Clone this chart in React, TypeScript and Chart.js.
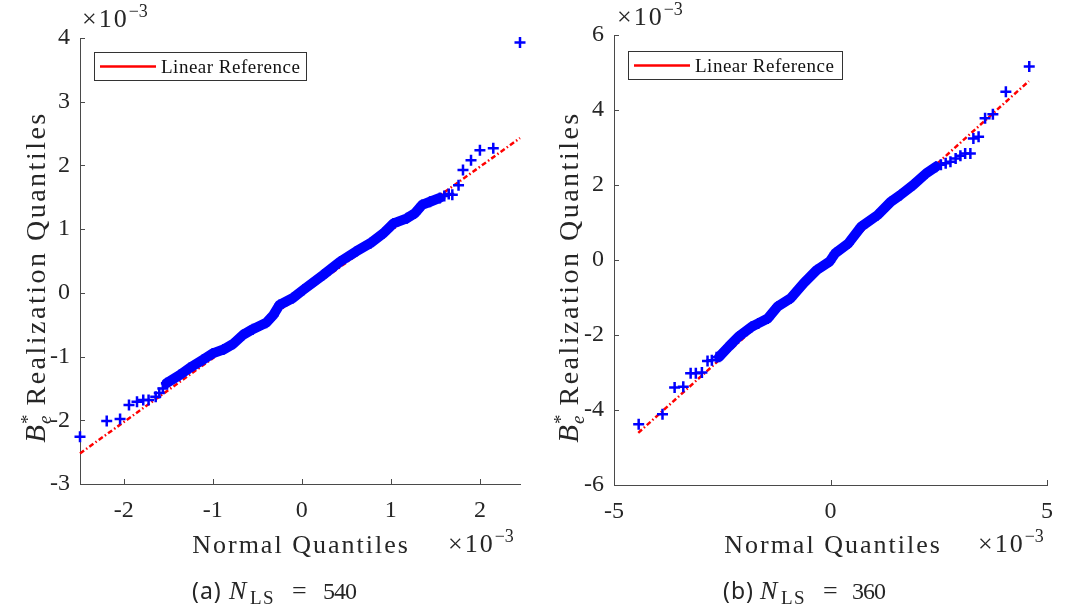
import React, { useEffect, useRef } from "react";
import { Chart, registerables } from "chart.js";

Chart.register(...registerables);

const BLUE = "#0000ff";
const RED = "#ff0000";
const AXIS = "#4a4a4a";
const TEXT = "#262626";
const SERIF = '"Liberation Serif", "Times New Roman", serif';
const SANS = '"Noto Sans", "Open Sans", sans-serif';

// ---------- Panel (a): N_LS = 540 ----------
const aLowTailX = [-2.49, -2.19, -2.04, -1.94, -1.85, -1.78, -1.72, -1.64, -1.6, -1.56];
const aLowTailY = [-2.26, -2.01, -1.98, -1.76, -1.71, -1.68, -1.68, -1.63, -1.57, -1.5];
const aBandX = [-1.52, -1.37, -1.26, -1.11, -1.0, -0.88, -0.77, -0.66, -0.55, -0.4, -0.32, -0.25, -0.1, 0.02, 0.24, 0.43, 0.61, 0.77, 0.92, 1.03, 1.18, 1.27, 1.35, 1.44, 1.55];
const aBandY = [-1.42, -1.29, -1.18, -1.05, -0.95, -0.89, -0.8, -0.66, -0.57, -0.47, -0.35, -0.19, -0.08, 0.05, 0.28, 0.49, 0.65, 0.78, 0.94, 1.09, 1.17, 1.25, 1.38, 1.43, 1.49];
const aHighTailX = [1.6, 1.65, 1.69, 1.76, 1.81, 1.9, 2.0, 2.15, 2.45];
const aHighTailY = [1.52, 1.55, 1.54, 1.69, 1.93, 2.08, 2.24, 2.27, 3.93];
const aRefX = [-2.49, 2.45];
const aRefY = [-2.52, 2.43];
const aXLimits = [-2.49, 2.45];
const aYLimits = [-3, 4];
const aXStep = 1;
const aYStep = 1;

// ---------- Panel (b): N_LS = 360 ----------
const bLowTailX = [-4.43, -3.88, -3.6, -3.4, -3.23, -3.11, -2.97, -2.84, -2.74, -2.63];
const bLowTailY = [-4.38, -4.11, -3.4, -3.38, -3.02, -3.02, -3.0, -2.69, -2.67, -2.59];
const bBandX = [-2.57, -2.35, -2.12, -1.82, -1.67, -1.45, -1.22, -0.92, -0.62, -0.32, -0.02, 0.11, 0.41, 0.71, 1.09, 1.39, 1.61, 1.91, 2.21, 2.44];
const bBandY = [-2.58, -2.31, -2.04, -1.78, -1.69, -1.56, -1.24, -1.02, -0.62, -0.27, -0.04, 0.18, 0.44, 0.89, 1.2, 1.55, 1.73, 2.0, 2.31, 2.49];
const bHighTailX = [2.55, 2.66, 2.77, 2.89, 3.0, 3.11, 3.23, 3.3, 3.42, 3.57, 3.75, 4.05, 4.59];
const bHighTailY = [2.54, 2.58, 2.62, 2.71, 2.78, 2.84, 2.84, 3.24, 3.29, 3.78, 3.89, 4.49, 5.16];
const bRefX = [-4.44, 4.58];
const bRefY = [-4.61, 4.77];
const bXLimits = [-5, 5];
const bYLimits = [-6, 6];
const bXStep = 5;
const bYStep = 2;

const legendLabel = "Linear Reference";
const xTitle = "Normal Quantiles";
const yTitleRest = "Realization Quantiles";

type Part = { t: string; font: string; dy?: number; ls?: string; gap?: number; stack?: boolean };

function pts(xs: number[], ys: number[]) {
  return xs.map((x, i) => ({ x, y: ys[i] }));
}

// Parts flagged "stack" share the same x position (super/subscript pairs)
function layoutParts(ctx: CanvasRenderingContext2D, parts: Part[]) {
  const xs: number[] = [];
  let cx = 0;
  let stackW = 0;
  for (const p of parts) {
    ctx.font = p.font;
    (ctx as any).letterSpacing = p.ls || "0px";
    const pw = ctx.measureText(p.t).width;
    if (p.stack) {
      xs.push(cx);
      stackW = Math.max(stackW, pw + (p.gap || 0));
    } else {
      cx += stackW;
      stackW = 0;
      xs.push(cx);
      cx += pw + (p.gap || 0);
    }
  }
  (ctx as any).letterSpacing = "0px";
  return { xs, total: cx + stackW };
}

function drawParts(ctx: CanvasRenderingContext2D, parts: Part[], x: number, y: number, align: "left" | "center" | "right") {
  const { xs, total } = layoutParts(ctx, parts);
  const x0 = align === "left" ? x : align === "center" ? x - total / 2 : x - total;
  ctx.textAlign = "left";
  ctx.textBaseline = "alphabetic";
  parts.forEach((p, i) => {
    ctx.font = p.font;
    (ctx as any).letterSpacing = p.ls || "0px";
    ctx.fillText(p.t, x0 + xs[i], y + (p.dy || 0));
  });
  (ctx as any).letterSpacing = "0px";
}

function drawAt(ctx: CanvasRenderingContext2D, t: string, font: string, x: number, y: number, ls = "0px") {
  ctx.font = font;
  (ctx as any).letterSpacing = ls;
  ctx.textAlign = "left";
  ctx.textBaseline = "alphabetic";
  ctx.fillText(t, x, y);
  (ctx as any).letterSpacing = "0px";
}

const extrasPlugin = {
  id: "extras",
  afterDraw(chart: any, _args: any, o: any) {
    const ctx: CanvasRenderingContext2D = chart.ctx;
    const { left, top, bottom } = chart.chartArea;
    const xs = chart.scales.x;
    const ys = chart.scales.y;
    ctx.save();

    // inward tick marks
    ctx.strokeStyle = AXIS;
    ctx.lineWidth = 1;
    ctx.beginPath();
    xs.ticks.forEach((t: any) => {
      const px = Math.round(xs.getPixelForValue(t.value)) + 0.5;
      ctx.moveTo(px, bottom);
      ctx.lineTo(px, bottom - 5);
    });
    ys.ticks.forEach((t: any) => {
      const py = Math.round(ys.getPixelForValue(t.value)) + 0.5;
      ctx.moveTo(left, py);
      ctx.lineTo(left + 5, py);
    });
    ctx.stroke();

    // legend box
    const lx = left + o.legendDX;
    const ly = top + o.legendDY;
    ctx.fillStyle = "#ffffff";
    ctx.fillRect(lx, ly, o.legendW, o.legendH);
    ctx.strokeStyle = "#333333";
    ctx.lineWidth = 1;
    ctx.strokeRect(Math.round(lx) + 0.5, Math.round(ly) + 0.5, o.legendW, o.legendH);
    ctx.strokeStyle = RED;
    ctx.lineWidth = 2.5;
    ctx.beginPath();
    ctx.moveTo(lx + 6, ly + o.legendH / 2 + 0.5);
    ctx.lineTo(lx + 62, ly + o.legendH / 2 + 0.5);
    ctx.stroke();
    ctx.fillStyle = "#111111";
    drawParts(ctx, [{ t: legendLabel, font: `19px ${SERIF}`, ls: "0.5px" }], lx + 67, ly + o.legendH / 2 + 6.5, "left");

    ctx.fillStyle = TEXT;
    const expParts: Part[] = [
      { t: "×10", font: `26px ${SERIF}`, ls: "2px", gap: 0 },
      { t: "−3", font: `18px ${SERIF}`, dy: -10 },
    ];
    drawParts(ctx, expParts, left + o.topExpDX, o.topExpY, "left");
    drawParts(ctx, expParts, o.botExpX, o.botExpY, "left");
    drawParts(ctx, [{ t: xTitle, font: `26px ${SERIF}`, ls: "2px" }], o.xTitleCX, o.xTitleY, "center");

    // y title (rotated)
    ctx.save();
    ctx.translate(o.yTitleX, o.yTitleCY);
    ctx.rotate(-Math.PI / 2);
    drawParts(
      ctx,
      [
        { t: "B", font: `italic 29px ${SERIF}`, gap: 1 },
        { t: "*", font: `19px ${SERIF}`, dy: -11, stack: true, gap: 9 },
        { t: "e", font: `italic 19px ${SERIF}`, dy: 6, stack: true, gap: 9 },
        { t: yTitleRest, font: `28px ${SERIF}`, ls: "2.5px" },
      ],
      0,
      0,
      "center"
    );
    ctx.restore();

    // caption
    const cx0 = o.captionX;
    const cy = o.captionY;
    drawAt(ctx, o.captionTag, `23px ${SANS}`, cx0, cy, "1px");
    drawAt(ctx, "N", `italic 26px ${SERIF}`, cx0 + 37, cy);
    drawAt(ctx, "LS", `19px ${SERIF}`, cx0 + 58, cy + 5, "1.5px");
    drawAt(ctx, "=", `26px ${SERIF}`, cx0 + 100, cy, "0px");
    drawAt(ctx, o.captionValue, `24px ${SERIF}`, cx0 + o.captionValueDX, cy, "-1px");
    ctx.restore();
  },
};

type PanelProps = {
  lowX: number[]; lowY: number[];
  bandX: number[]; bandY: number[];
  highX: number[]; highY: number[];
  refX: number[]; refY: number[];
  xLim: number[]; yLim: number[];
  xStep: number; yStep: number;
  pad: { left: number; right: number; top: number; bottom: number };
  extras: any;
  width: number;
  height: number;
};

function Panel(p: PanelProps) {
  const ref = useRef<HTMLCanvasElement | null>(null);
  useEffect(() => {
    if (!ref.current) return;
    const crossStyle = {
      pointStyle: "cross" as const,
      pointRadius: 5.5,
      pointBorderWidth: 2.5,
      pointBorderColor: BLUE,
      pointBackgroundColor: BLUE,
    };
    const chart = new Chart(ref.current, {
      type: "scatter",
      data: {
        datasets: [
          { label: "low", data: pts(p.lowX, p.lowY), showLine: false, order: 0, clip: false, ...crossStyle } as any,
          { label: "high", data: pts(p.highX, p.highY), showLine: false, order: 0, clip: false, ...crossStyle } as any,
          {
            label: "band",
            data: pts(p.bandX, p.bandY),
            showLine: true,
            borderColor: BLUE,
            borderWidth: 10,
            borderCapStyle: "round",
            borderJoinStyle: "round",
            tension: 0,
            order: 1,
            clip: false,
            ...crossStyle,
          } as any,
          {
            label: legendLabel,
            data: pts(p.refX, p.refY),
            showLine: true,
            borderColor: RED,
            borderWidth: 2.5,
            borderDash: [5, 2.5, 1.5, 2.5],
            pointRadius: 0,
            order: 2,
            clip: false,
          } as any,
        ],
      },
      options: {
        responsive: false,
        animation: false,
        devicePixelRatio: 1,
        events: [],
        layout: { padding: p.pad },
        plugins: {
          legend: { display: false },
          tooltip: { enabled: false },
          extras: p.extras,
        } as any,
        scales: {
          x: {
            type: "linear",
            min: p.xLim[0],
            max: p.xLim[1],
            afterFit: (s: any) => {
              s.height = 40;
            },
            grid: { display: false, drawTicks: false },
            border: { display: true, color: AXIS, width: 1 },
            ticks: {
              stepSize: p.xStep,
              includeBounds: false,
              autoSkip: false,
              maxRotation: 0,
              padding: 12,
              color: TEXT,
              font: { family: SERIF, size: 24 },
              callback: (v: any) => String(v),
            },
          },
          y: {
            type: "linear",
            min: p.yLim[0],
            max: p.yLim[1],
            afterFit: (s: any) => {
              s.width = 70;
            },
            grid: { display: false, drawTicks: false },
            border: { display: true, color: AXIS, width: 1 },
            ticks: {
              stepSize: p.yStep,
              includeBounds: false,
              autoSkip: false,
              padding: 10,
              color: TEXT,
              font: { family: SERIF, size: 24 },
              callback: (v: any) => String(v),
            },
          },
        },
      },
      plugins: [extrasPlugin as any],
    });
    return () => chart.destroy();
  }, []);
  return <canvas ref={ref} width={p.width} height={p.height} style={{ display: "block", width: p.width, height: p.height }} />;
}

export default function App() {
  return (
    <div style={{ position: "absolute", left: 0, top: 0, width: 1065, height: 606, background: "#fff", display: "flex" }}>
      <Panel
        lowX={aLowTailX} lowY={aLowTailY}
        bandX={aBandX} bandY={aBandY}
        highX={aHighTailX} highY={aHighTailY}
        refX={aRefX} refY={aRefY}
        xLim={aXLimits} yLim={aYLimits}
        xStep={aXStep} yStep={aYStep}
        width={532} height={606}
        pad={{ left: 10, right: 12, top: 38, bottom: 82 }}
        extras={{
          legendDX: 14, legendDY: 14, legendW: 212, legendH: 28,
          topExpDX: 2, topExpY: 27,
          botExpX: 448, botExpY: 552,
          xTitleCX: 301, xTitleY: 553,
          yTitleX: 45, yTitleCY: 277,
          captionTag: "(a)", captionValue: "540", captionValueDX: 131, captionX: 192, captionY: 599,
        }}
      />
      <Panel
        lowX={bLowTailX} lowY={bLowTailY}
        bandX={bBandX} bandY={bBandY}
        highX={bHighTailX} highY={bHighTailY}
        refX={bRefX} refY={bRefY}
        xLim={bXLimits} yLim={bYLimits}
        xStep={bXStep} yStep={bYStep}
        width={533} height={606}
        pad={{ left: 12, right: 8, top: 35, bottom: 81 }}
        extras={{
          legendDX: 14, legendDY: 16, legendW: 214, legendH: 28,
          topExpDX: 3, topExpY: 25,
          botExpX: 446, botExpY: 552,
          xTitleCX: 301, xTitleY: 553,
          yTitleX: 46, yTitleCY: 277,
          captionTag: "(b)", captionValue: "360", captionValueDX: 129, captionX: 191, captionY: 599,
        }}
      />
    </div>
  );
}
